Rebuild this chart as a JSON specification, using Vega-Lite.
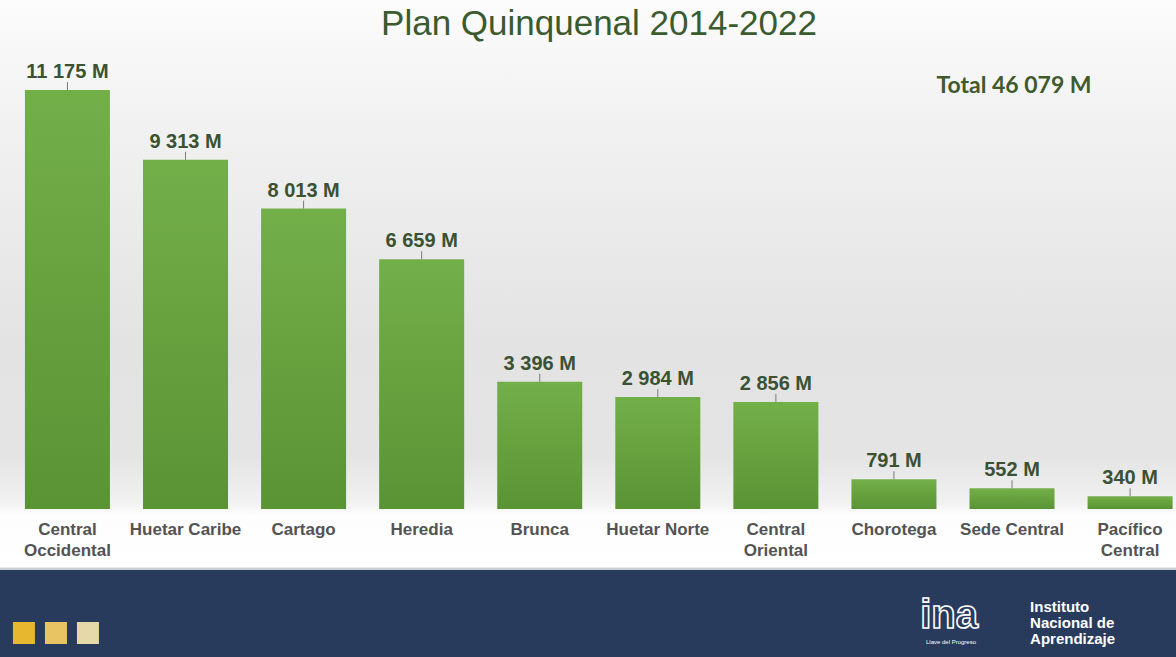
{
  "$schema": "https://vega.github.io/schema/vega-lite/v6.json",
  "autosize": {"type": "none"},
  "padding": {"left": 0, "top": 0, "right": 0, "bottom": 87},
  "width": 1176,
  "height": 570,
  "background": "#283b5c",
  "title": {
    "text": "Plan Quinquenal 2014-2022",
    "font": "Liberation Sans",
    "fontSize": 35,
    "fontWeight": "normal",
    "color": "#3a5a30",
    "anchor": "middle",
    "dx": 11,
    "offset": -70,
    "baseline": "alphabetic"
  },
  "datasets": {
    "main": [
      {"region": "Central Occidental", "value": 11175, "label": "11 175 M"},
      {"region": "Huetar Caribe", "value": 9313, "label": "9 313 M"},
      {"region": "Cartago", "value": 8013, "label": "8 013 M"},
      {"region": "Heredia", "value": 6659, "label": "6 659 M"},
      {"region": "Brunca", "value": 3396, "label": "3 396 M"},
      {"region": "Huetar Norte", "value": 2984, "label": "2 984 M"},
      {"region": "Central Oriental", "value": 2856, "label": "2 856 M"},
      {"region": "Chorotega", "value": 791, "label": "791 M"},
      {"region": "Sede Central", "value": 552, "label": "552 M"},
      {"region": "Pacífico Central", "value": 340, "label": "340 M"}
    ]
  },
  "layer": [
    {
      "data": {"name": "main"},
      "mark": {
        "type": "bar",
        "fill": {
          "gradient": "linear", "x1": 0, "y1": 0, "x2": 0, "y2": 1,
          "stops": [
            {"offset": 0, "color": "#73af49"},
            {"offset": 1, "color": "#5a9334"}
          ]
        }
      },
      "encoding": {
        "x": {
          "field": "region", "type": "nominal", "sort": null,
          "scale": {
            "domain": ["Central Occidental", "Huetar Caribe", "Cartago", "Heredia", "Brunca", "Huetar Norte", "Central Oriental", "Chorotega", "Sede Central", "Pacífico Central"],
            "paddingInner": 0.28, "paddingOuter": 0.12, "align": 0.88
          },
          "title": null
        },
        "y": {
          "field": "value", "type": "quantitative",
          "scale": {"domain": [-1626.9, 13575.4], "nice": false, "zero": false},
          "axis": null
        }
      }
    },
    {
      "data": {"name": "main"},
      "mark": {"type": "rule", "stroke": "#7a7a7a", "strokeWidth": 1, "y2Offset": -8},
      "encoding": {
        "x": {"field": "region", "type": "nominal", "title": null},
        "y": {"field": "value", "type": "quantitative", "axis": null},
        "y2": {"field": "value"}
      }
    },
    {
      "data": {"name": "main"},
      "mark": {
        "type": "text", "font": "Liberation Sans", "fontSize": 20, "fontWeight": "bold",
        "color": "#3a5233", "baseline": "alphabetic", "dy": -12
      },
      "encoding": {
        "x": {"field": "region", "type": "nominal", "title": null},
        "y": {"field": "value", "type": "quantitative", "axis": null},
        "text": {"field": "label"}
      }
    },
    {
      "data": {"values": [{"note": "Total 46 079 M"}]},
      "mark": {
        "type": "text", "font": "Lato", "fontSize": 23, "fontWeight": "bold",
        "color": "#3f5a2c", "baseline": "alphabetic", "dx": 2
      },
      "encoding": {
        "x": {"datum": "Sede Central", "type": "nominal", "title": null},
        "y": {"datum": 11095, "type": "quantitative", "axis": null},
        "text": {"field": "note"}
      }
    },
    {
      "data": {"values": [{"k": 1}]},
      "mark": {"type": "point", "shape": "square", "filled": true, "size": 484, "opacity": 1, "color": "#e7b82f", "xOffset": -43.5},
      "encoding": {
        "x": {"datum": "Central Occidental", "type": "nominal", "title": null},
        "y": {"datum": -3307, "type": "quantitative", "axis": null}
      }
    },
    {
      "data": {"values": [{"k": 1}]},
      "mark": {"type": "point", "shape": "square", "filled": true, "size": 484, "opacity": 1, "color": "#e9c462", "xOffset": -11.5},
      "encoding": {
        "x": {"datum": "Central Occidental", "type": "nominal", "title": null},
        "y": {"datum": -3307, "type": "quantitative", "axis": null}
      }
    },
    {
      "data": {"values": [{"k": 1}]},
      "mark": {"type": "point", "shape": "square", "filled": true, "size": 484, "opacity": 1, "color": "#e6d9a9", "xOffset": 20.5},
      "encoding": {
        "x": {"datum": "Central Occidental", "type": "nominal", "title": null},
        "y": {"datum": -3307, "type": "quantitative", "axis": null}
      }
    },
    {
      "data": {"values": [{"t": "Instituto"}]},
      "mark": {
        "type": "text", "font": "Liberation Sans", "fontSize": 15, "fontWeight": "bold",
        "color": "#ffffff", "align": "left", "baseline": "alphabetic", "lineHeight": 16,
        "dx": -100,
        "text": ["Instituto", "Nacional de", "Aprendizaje"]
      },
      "encoding": {
        "x": {"datum": "Pacífico Central", "type": "nominal", "title": null},
        "y": {"datum": -2747, "type": "quantitative", "axis": null}
      }
    },
    {
      "data": {"values": [{"t": "ina"}]},
      "mark": {
        "type": "text", "font": "Liberation Sans", "fontSize": 40, "fontWeight": "bold",
        "fill": null, "stroke": "#ffffff", "strokeWidth": 1.6, "align": "center", "baseline": "alphabetic",
        "dx": -63
      },
      "encoding": {
        "x": {"datum": "Sede Central", "type": "nominal", "title": null},
        "y": {"datum": -3174, "type": "quantitative", "axis": null},
        "text": {"field": "t"}
      }
    },
    {
      "data": {"values": [{"t": "Llave del Progreso"}]},
      "mark": {
        "type": "text", "font": "Liberation Sans", "fontSize": 6, "color": "#ffffff",
        "align": "center", "baseline": "alphabetic", "dx": -61
      },
      "encoding": {
        "x": {"datum": "Sede Central", "type": "nominal", "title": null},
        "y": {"datum": -3590, "type": "quantitative", "axis": null},
        "text": {"field": "t"}
      }
    }
  ],
  "config": {
    "axisX": {
      "orient": "bottom",
      "offset": -61,
      "domain": false,
      "ticks": false,
      "grid": false,
      "labelAngle": 0,
      "labelFont": "Liberation Sans",
      "labelFontSize": 17,
      "labelFontWeight": "bold",
      "labelColor": "#535353",
      "labelPadding": 12,
      "labelLineHeight": 21,
      "labelBaseline": "top",
      "labelLimit": 0,
      "labelExpr": "indexof(['Central Occidental','Central Oriental','Pacífico Central'], datum.label) >= 0 ? split(datum.label, ' ') : datum.label"
    },
    "view": {
      "stroke": null,
      "fill": {
        "gradient": "linear", "x1": 0, "y1": 0, "x2": 0, "y2": 1,
        "stops": [
          {"offset": 0, "color": "#fcfcfc"},
          {"offset": 0.2, "color": "#f2f2f2"},
          {"offset": 0.6, "color": "#e3e3e3"},
          {"offset": 0.8, "color": "#e4e4e4"},
          {"offset": 0.88, "color": "#f1f1f1"},
          {"offset": 0.905, "color": "#fdfdfd"},
          {"offset": 0.995, "color": "#ffffff"},
          {"offset": 0.9965, "color": "#c9ced6"},
          {"offset": 1, "color": "#c9ced6"}
        ]
      }
    }
  }
}
